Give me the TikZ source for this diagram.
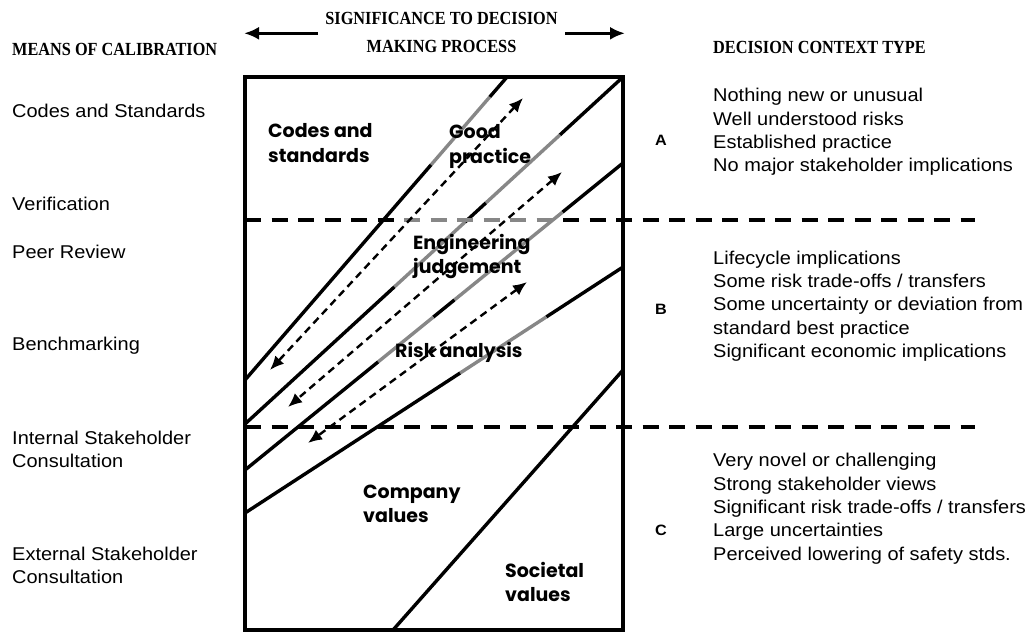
\documentclass[tikz,border=0pt]{standalone}
\usepackage{fontspec}
\usetikzlibrary{arrows.meta,calc}
\newfontfamily\bodyfont[FakeStretch=1.08]{Liberation Sans}
\newfontfamily\serifhead[FakeStretch=0.88]{Liberation Serif}
\newfontfamily\regionfont{Poppins}
\definecolor{midgray}{RGB}{135,135,135}
\newcommand{\stack}[1]{\begin{tabular}[t]{@{}l@{}}#1\end{tabular}}
\begin{document}
\begin{tikzpicture}[x=1pt,y=-1pt,
  solidline/.style={line width=3.4pt},
  grayseg/.style={line width=3.4pt,draw=midgray},
  boxframe/.style={line width=3.6pt},
  hdash/.style={line width=4pt,dash pattern=on 16pt off 10.5pt},
  darrow/.style={line width=2.4pt,dash pattern=on 7.5pt off 5pt,{Latex[length=14pt,width=12pt]}-{Latex[length=14pt,width=12pt]}},
  hdrarrow/.style={line width=3.5pt,-{Latex[length=15pt,width=13pt]}},
  bodytext/.style={inner sep=0pt,anchor=base west,font=\bodyfont\fontsize{18.5}{23.4}\selectfont},
  headtext/.style={inner sep=0pt,font=\serifhead\bfseries\fontsize{18.5}{20}\selectfont},
  regionlabel/.style={inner sep=0pt,anchor=base west,font=\regionfont\bfseries\fontsize{19}{24.5}\selectfont},
  letterlabel/.style={inner sep=0pt,anchor=base west,font=\bodyfont\bfseries\fontsize{15}{17}\selectfont},
]
\useasboundingbox (0,0) rectangle (1035,632);

% box corners
\coordinate (boxNW) at (245,77);
\coordinate (boxSE) at (623,630);

% diagonal boundary lines
\coordinate (L1a) at (507,77);  \coordinate (L1b) at (245,380);
\coordinate (L2a) at (623,77);  \coordinate (L2b) at (245,424);
\coordinate (L3a) at (623,163); \coordinate (L3b) at (245,470);
\coordinate (L4a) at (623,267); \coordinate (L4b) at (245,513);
\coordinate (L5a) at (623,370); \coordinate (L5b) at (393,630);

% line 1
\draw[solidline] (L1a) -- ($(L1a)!0.066!(L1b)$);
\draw[grayseg] ($(L1a)!0.066!(L1b)$) -- ($(L1a)!0.290!(L1b)$);
\draw[solidline] ($(L1a)!0.290!(L1b)$) -- (L1b);
% line 2
\draw[solidline] (L2a) -- ($(L2a)!0.167!(L2b)$);
\draw[grayseg] ($(L2a)!0.167!(L2b)$) -- ($(L2a)!0.363!(L2b)$);
\draw[solidline] ($(L2a)!0.363!(L2b)$) -- ($(L2a)!0.418!(L2b)$);
\draw[grayseg] ($(L2a)!0.418!(L2b)$) -- ($(L2a)!0.605!(L2b)$);
\draw[solidline] ($(L2a)!0.605!(L2b)$) -- (L2b);
% line 3
\draw[solidline] (L3a) -- ($(L3a)!0.160!(L3b)$);
\draw[grayseg] ($(L3a)!0.160!(L3b)$) -- ($(L3a)!0.446!(L3b)$);
\draw[solidline] ($(L3a)!0.446!(L3b)$) -- ($(L3a)!0.502!(L3b)$);
\draw[grayseg] ($(L3a)!0.502!(L3b)$) -- ($(L3a)!0.648!(L3b)$);
\draw[solidline] ($(L3a)!0.648!(L3b)$) -- (L3b);
% line 4
\draw[solidline] (L4a) -- ($(L4a)!0.203!(L4b)$);
\draw[grayseg] ($(L4a)!0.203!(L4b)$) -- ($(L4a)!0.431!(L4b)$);
\draw[solidline] ($(L4a)!0.431!(L4b)$) -- (L4b);
% line 5
\draw[solidline] (L5a) -- (L5b);

% horizontal dashed separators
\coordinate (sepAw) at (245,220); \coordinate (sepAe) at (975,220);
\coordinate (sepBw) at (245,427); \coordinate (sepBe) at (975,427);
\begin{scope}
  \clip (240,205) rectangle (397,235) (560,205) rectangle (980,235);
  \draw[hdash] (sepAw) -- (sepAe);
\end{scope}
\begin{scope}
  \clip (397,205) rectangle (560,235);
  \draw[hdash,draw=midgray] (sepAw) -- (sepAe);
\end{scope}
\draw[hdash] (sepBw) -- (sepBe);

% dashed double arrows
\coordinate (arA1) at (523,98);  \coordinate (arA2) at (270,370);
\coordinate (arB1) at (562,172); \coordinate (arB2) at (288,407);
\coordinate (arC1) at (527,282); \coordinate (arC2) at (308,443);
\draw[darrow] (arA1) -- (arA2);
\draw[darrow] (arB1) -- (arB2);
\draw[darrow] (arC1) -- (arC2);

% frame
\draw[boxframe] (boxNW) rectangle (boxSE);

% region labels
\node[regionlabel] (rcodes) at (268,137.7) {\stack{Codes and\\standards}};
\node[regionlabel] (rgood) at (449,138.7) {\stack{Good\\practice}};
\node[regionlabel] (reng) at (413,249) {\stack{Engineering\\judgement}};
\node[regionlabel] (rrisk) at (395,357) {Risk analysis};
\node[regionlabel] (rcomp) at (363,498) {\stack{Company\\values}};
\node[regionlabel] (rsoc) at (505,577) {\stack{Societal\\values}};

% top header
\node[headtext,anchor=base] (sig1) at (441.5,24) {SIGNIFICANCE TO DECISION};
\node[headtext,anchor=base] (sig2) at (441.5,52) {MAKING PROCESS};
\coordinate (hdrLs) at (318,33.3); \coordinate (hdrLe) at (244,33.3);
\coordinate (hdrRs) at (565,33.3); \coordinate (hdrRe) at (625,33.3);
\draw[hdrarrow] (hdrLs) -- (hdrLe);
\draw[hdrarrow] (hdrRs) -- (hdrRe);

% left column
\node[headtext,anchor=base west] (meanshdr) at (12,55) {MEANS OF CALIBRATION};
\node[bodytext] (mcodes) at (12,117.3) {Codes and Standards};
\node[bodytext] (mverif) at (12,210.7) {Verification};
\node[bodytext] (mpeer) at (12,258.3) {Peer Review};
\node[bodytext] (mbench) at (12,350) {Benchmarking};
\node[bodytext] (mint) at (12,444) {\stack{Internal Stakeholder\\Consultation}};
\node[bodytext] (mext) at (12,560.5) {\stack{External Stakeholder\\Consultation}};

% right column
\node[headtext,anchor=base west] (ctxhdr) at (713,53.3) {DECISION CONTEXT TYPE};
\node[bodytext] (ctxA) at (713,101.7) {\stack{Nothing new or unusual\\Well understood risks\\Established practice\\No major stakeholder implications}};
\node[bodytext] (ctxB) at (713,264) {\stack{Lifecycle implications\\Some risk trade-offs / transfers\\Some uncertainty or deviation from\\standard best practice\\Significant economic implications}};
\node[bodytext] (ctxC) at (713,466.7) {\stack{Very novel or challenging\\Strong stakeholder views\\Significant risk trade-offs / transfers\\Large uncertainties\\Perceived lowering of safety stds.}};
\node[letterlabel] (typeA) at (655,145.7) {A};
\node[letterlabel] (typeB) at (655,314) {B};
\node[letterlabel] (typeC) at (655,535) {C};
\end{tikzpicture}
\end{document}
